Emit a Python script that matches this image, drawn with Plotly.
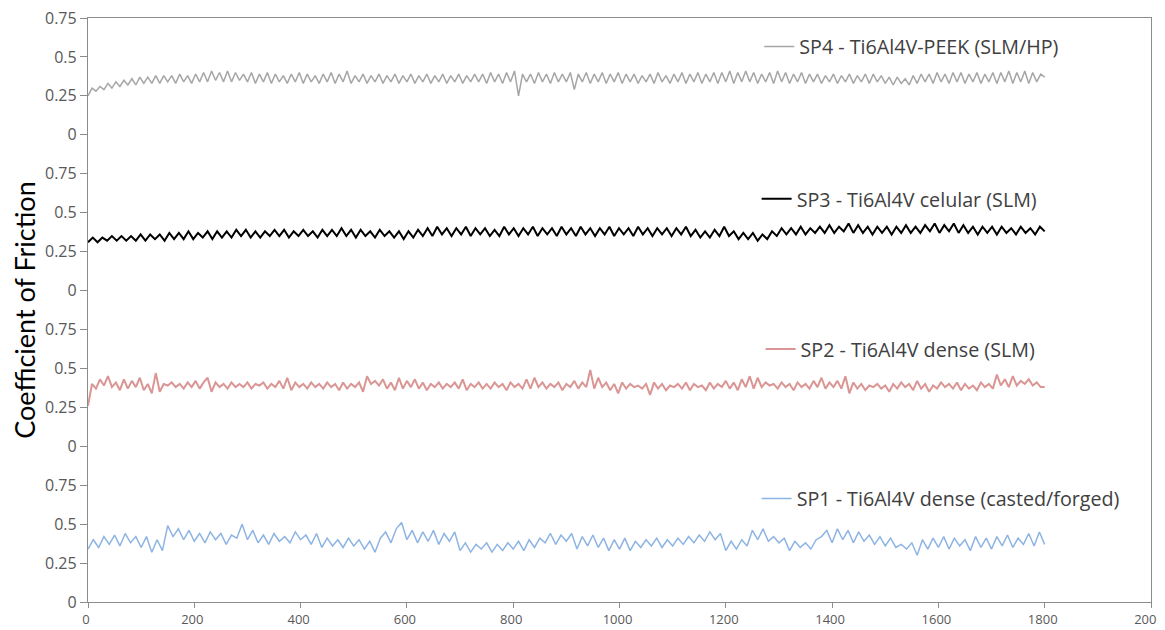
import numpy as np
import plotly.graph_objects as go

# ---------------- data ----------------
SERIES_NAMES = [
    "SP1 - Ti6Al4V dense (casted/forged)",
    "SP2 - Ti6Al4V dense (SLM)",
    "SP3 - Ti6Al4V celular (SLM)",
    "SP4 - Ti6Al4V-PEEK (SLM/HP)",
]

# sliding distance (x) for each series
x_sp1 = np.arange(0, 1800.1, 10.0)
x_sp2 = np.arange(0, 1800.1, 7.5)
x_sp3 = np.arange(0, 1800.1, 9.0)
x_sp4 = np.arange(0, 1800.1, 7.5)

sp1 = [
    0.34, 0.40, 0.35, 0.42, 0.37, 0.43, 0.36, 0.44, 0.38, 0.42,
    0.35, 0.42, 0.32, 0.40, 0.33, 0.49, 0.42, 0.47, 0.40, 0.46,
    0.39, 0.44, 0.38, 0.45, 0.40, 0.44, 0.37, 0.43, 0.41, 0.50,
    0.40, 0.46, 0.38, 0.43, 0.37, 0.44, 0.39, 0.42, 0.38, 0.45,
    0.40, 0.43, 0.37, 0.44, 0.35, 0.41, 0.36, 0.40, 0.35, 0.41,
    0.36, 0.40, 0.34, 0.39, 0.32, 0.41, 0.45, 0.38, 0.47, 0.51,
    0.40, 0.46, 0.38, 0.45, 0.39, 0.46, 0.37, 0.44, 0.39, 0.45,
    0.33, 0.38, 0.32, 0.37, 0.34, 0.38, 0.32, 0.37, 0.33, 0.38,
    0.34, 0.39, 0.33, 0.40, 0.35, 0.41, 0.38, 0.44, 0.37, 0.43,
    0.39, 0.44, 0.34, 0.42, 0.36, 0.43, 0.35, 0.41, 0.33, 0.40,
    0.34, 0.41, 0.33, 0.39, 0.35, 0.40, 0.36, 0.41, 0.35, 0.40,
    0.36, 0.41, 0.37, 0.42, 0.38, 0.43, 0.39, 0.45, 0.40, 0.44,
    0.33, 0.39, 0.34, 0.40, 0.36, 0.46, 0.40, 0.47, 0.39, 0.42,
    0.38, 0.41, 0.33, 0.39, 0.35, 0.38, 0.34, 0.40, 0.42, 0.46,
    0.38, 0.47, 0.40, 0.46, 0.38, 0.45, 0.39, 0.43, 0.37, 0.42,
    0.36, 0.41, 0.35, 0.37, 0.34, 0.38, 0.30, 0.40, 0.34, 0.41,
    0.35, 0.42, 0.34, 0.41, 0.36, 0.40, 0.33, 0.42, 0.35, 0.41,
    0.34, 0.42, 0.36, 0.43, 0.35, 0.41, 0.37, 0.44, 0.36, 0.45,
    0.37,
]

sp2 = [
    0.26, 0.40, 0.37, 0.43, 0.39, 0.45, 0.38, 0.41, 0.36, 0.43,
    0.37, 0.42, 0.38, 0.44, 0.36, 0.40, 0.34, 0.47, 0.35, 0.40,
    0.39, 0.41, 0.38, 0.40, 0.37, 0.41, 0.38, 0.42, 0.37, 0.41,
    0.44, 0.35, 0.41, 0.38, 0.40, 0.37, 0.41, 0.38, 0.40, 0.38,
    0.41, 0.37, 0.40, 0.39, 0.41, 0.37, 0.40, 0.38, 0.42, 0.37,
    0.44, 0.36, 0.41, 0.38, 0.40, 0.37, 0.41, 0.38, 0.40, 0.37,
    0.41, 0.38, 0.40, 0.36, 0.41, 0.37, 0.40, 0.38, 0.41, 0.35,
    0.45, 0.40, 0.42, 0.39, 0.43, 0.37, 0.41, 0.36, 0.44, 0.37,
    0.42, 0.38, 0.43, 0.37, 0.41, 0.36, 0.40, 0.38, 0.41, 0.37,
    0.40, 0.38, 0.41, 0.37, 0.43, 0.36, 0.40, 0.38, 0.41, 0.37,
    0.40, 0.37, 0.41, 0.38, 0.40, 0.36, 0.41, 0.38, 0.40, 0.37,
    0.43, 0.37, 0.44, 0.38, 0.41, 0.37, 0.40, 0.38, 0.41, 0.36,
    0.40, 0.38, 0.42, 0.37, 0.41, 0.38, 0.49, 0.37, 0.44, 0.38,
    0.41, 0.36, 0.40, 0.34, 0.41, 0.37, 0.40, 0.38, 0.39, 0.37,
    0.40, 0.33, 0.41, 0.37, 0.40, 0.36, 0.39, 0.38, 0.40, 0.37,
    0.41, 0.36, 0.40, 0.38, 0.39, 0.36, 0.41, 0.37, 0.40, 0.38,
    0.42, 0.37, 0.41, 0.36, 0.43, 0.38, 0.45, 0.37, 0.44, 0.38,
    0.41, 0.39, 0.40, 0.37, 0.41, 0.38, 0.40, 0.36, 0.41, 0.38,
    0.40, 0.37, 0.42, 0.38, 0.44, 0.37, 0.41, 0.38, 0.42, 0.37,
    0.45, 0.34, 0.41, 0.37, 0.40, 0.36, 0.39, 0.38, 0.40, 0.37,
    0.39, 0.35, 0.40, 0.37, 0.41, 0.38, 0.40, 0.36, 0.42, 0.37,
    0.40, 0.35, 0.39, 0.37, 0.41, 0.38, 0.40, 0.37, 0.41, 0.36,
    0.40, 0.37, 0.39, 0.36, 0.41, 0.38, 0.40, 0.37, 0.46, 0.39,
    0.43, 0.38, 0.45, 0.39, 0.42, 0.40, 0.43, 0.39, 0.41, 0.38,
    0.38,
]

sp3 = [
    0.31, 0.34, 0.31, 0.34, 0.32, 0.35, 0.32, 0.35, 0.32, 0.35,
    0.32, 0.36, 0.32, 0.36, 0.33, 0.36, 0.32, 0.37, 0.33, 0.37,
    0.33, 0.38, 0.33, 0.37, 0.34, 0.38, 0.33, 0.38, 0.34, 0.38,
    0.34, 0.39, 0.35, 0.39, 0.34, 0.38, 0.34, 0.38, 0.35, 0.39,
    0.35, 0.39, 0.34, 0.38, 0.35, 0.39, 0.35, 0.38, 0.34, 0.39,
    0.35, 0.39, 0.35, 0.40, 0.35, 0.39, 0.34, 0.39, 0.35, 0.38,
    0.34, 0.39, 0.35, 0.38, 0.34, 0.38, 0.33, 0.38, 0.34, 0.39,
    0.35, 0.40, 0.35, 0.41, 0.36, 0.40, 0.35, 0.40, 0.36, 0.41,
    0.35, 0.40, 0.36, 0.40, 0.35, 0.39, 0.35, 0.41, 0.36, 0.40,
    0.35, 0.40, 0.36, 0.41, 0.35, 0.40, 0.36, 0.40, 0.35, 0.41,
    0.36, 0.40, 0.35, 0.41, 0.36, 0.40, 0.35, 0.40, 0.36, 0.41,
    0.35, 0.40, 0.36, 0.40, 0.35, 0.41, 0.36, 0.40, 0.35, 0.40,
    0.36, 0.40, 0.35, 0.40, 0.36, 0.41, 0.35, 0.39, 0.34, 0.38,
    0.34, 0.39, 0.35, 0.41, 0.35, 0.38, 0.33, 0.37, 0.33, 0.37,
    0.32, 0.36, 0.33, 0.38, 0.35, 0.40, 0.36, 0.40, 0.36, 0.41,
    0.36, 0.40, 0.37, 0.41, 0.37, 0.42, 0.37, 0.41, 0.38, 0.43,
    0.37, 0.42, 0.37, 0.41, 0.36, 0.41, 0.37, 0.41, 0.36, 0.41,
    0.37, 0.42, 0.37, 0.41, 0.37, 0.42, 0.38, 0.43, 0.37, 0.42,
    0.38, 0.43, 0.37, 0.42, 0.37, 0.41, 0.36, 0.41, 0.37, 0.41,
    0.36, 0.41, 0.37, 0.40, 0.36, 0.41, 0.37, 0.40, 0.36, 0.41,
    0.38,
]

sp4 = [
    0.25, 0.30, 0.28, 0.31, 0.29, 0.33, 0.30, 0.34, 0.31, 0.35,
    0.32, 0.36, 0.32, 0.37, 0.33, 0.37, 0.33, 0.38, 0.33, 0.38,
    0.34, 0.38, 0.33, 0.39, 0.34, 0.38, 0.33, 0.39, 0.34, 0.40,
    0.34, 0.41, 0.35, 0.40, 0.34, 0.41, 0.34, 0.40, 0.35, 0.39,
    0.34, 0.40, 0.33, 0.39, 0.34, 0.40, 0.33, 0.39, 0.34, 0.38,
    0.33, 0.39, 0.34, 0.40, 0.33, 0.39, 0.34, 0.38, 0.33, 0.39,
    0.34, 0.40, 0.33, 0.39, 0.34, 0.41, 0.33, 0.38, 0.34, 0.39,
    0.33, 0.38, 0.34, 0.39, 0.33, 0.38, 0.34, 0.39, 0.33, 0.38,
    0.34, 0.39, 0.33, 0.38, 0.34, 0.39, 0.33, 0.38, 0.34, 0.39,
    0.33, 0.38, 0.34, 0.39, 0.33, 0.38, 0.34, 0.39, 0.34, 0.39,
    0.33, 0.40, 0.34, 0.39, 0.33, 0.40, 0.34, 0.41, 0.25, 0.39,
    0.34, 0.39, 0.33, 0.40, 0.34, 0.39, 0.33, 0.40, 0.34, 0.39,
    0.34, 0.40, 0.29, 0.39, 0.34, 0.40, 0.33, 0.39, 0.34, 0.40,
    0.33, 0.39, 0.34, 0.40, 0.33, 0.39, 0.34, 0.39, 0.33, 0.38,
    0.34, 0.39, 0.33, 0.40, 0.34, 0.38, 0.33, 0.39, 0.34, 0.40,
    0.33, 0.39, 0.34, 0.40, 0.33, 0.39, 0.34, 0.40, 0.33, 0.40,
    0.34, 0.41, 0.33, 0.40, 0.34, 0.41, 0.34, 0.40, 0.33, 0.39,
    0.34, 0.40, 0.33, 0.41, 0.34, 0.40, 0.33, 0.39, 0.34, 0.40,
    0.33, 0.39, 0.34, 0.39, 0.33, 0.38, 0.34, 0.39, 0.33, 0.38,
    0.34, 0.39, 0.33, 0.38, 0.34, 0.39, 0.33, 0.39, 0.34, 0.38,
    0.33, 0.37, 0.32, 0.37, 0.33, 0.36, 0.32, 0.38, 0.33, 0.39,
    0.34, 0.39, 0.33, 0.40, 0.34, 0.39, 0.33, 0.40, 0.34, 0.40,
    0.33, 0.39, 0.34, 0.40, 0.33, 0.39, 0.34, 0.40, 0.33, 0.40,
    0.34, 0.41, 0.33, 0.40, 0.34, 0.41, 0.33, 0.40, 0.34, 0.39,
    0.37,
]

# y-axis tick labels (each band repeats 0 .. 0.75)
Y_TICK_TEXT = ["0", "0.25", "0.5", "0.75"] * 4
X_TICKS = list(range(0, 2001, 200))

# ---------------- styling / layout ----------------
COLORS = ["rgb(141,180,226)", "rgb(217,150,148)", "rgb(0,0,0)", "rgb(166,166,166)"]
WIDTHS = [1.5, 2.0, 2.0, 1.5]
BAND_OFFSETS = [0.0, 1.0, 2.0, 3.0]
LEGEND_IDS = ["legend4", "legend3", "legend2", "legend"]
LEGEND_POS = [(0.6290, 0.177), (0.6327, 0.433), (0.6290, 0.690), (0.6315, 0.951)]

xs = [x_sp1, x_sp2, x_sp3, x_sp4]
ys = [sp1, sp2, sp3, sp4]

fig = go.Figure()
for i in range(4):
    fig.add_trace(go.Scatter(
        x=xs[i], y=np.array(ys[i]) + BAND_OFFSETS[i],
        mode="lines", name=SERIES_NAMES[i],
        line=dict(color=COLORS[i], width=WIDTHS[i]),
        legend=LEGEND_IDS[i],
    ))

FONT = "Open Sans, Noto Sans, sans-serif"
legend_common = dict(
    bgcolor="rgba(0,0,0,0)", borderwidth=0,
    font=dict(family=FONT, size=19.7, color="#404040"),
    xanchor="left", yanchor="middle", itemwidth=30,
)
layout_legends = {}
for i in range(4):
    lx, ly = LEGEND_POS[i]
    layout_legends[LEGEND_IDS[i]] = dict(legend_common, x=lx, y=ly)

axis_line = "#8c8c8c"
# the page body adds an 8px offset, so the figure is 8px smaller than the window
fig.update_layout(
    width=1157, height=622,
    margin=dict(l=80, r=14, t=10, b=28, autoexpand=False),
    paper_bgcolor="white", plot_bgcolor="white",
    showlegend=True,
    xaxis=dict(
        range=[0, 2000], tickvals=X_TICKS, ticktext=[str(v) for v in X_TICKS],
        showgrid=False, zeroline=False, showline=True, mirror=True,
        linecolor=axis_line, linewidth=1.3, automargin=False,
        ticks="outside", ticklen=5, tickcolor=axis_line,
        ticklabeloverflow="allow", ticklabelshift=-2,
        tickfont=dict(family=FONT, size=13, color="#595959"),
    ),
    yaxis=dict(
        range=[0, 3.75], tickvals=[k * 0.25 for k in range(16)], ticktext=Y_TICK_TEXT,
        showgrid=False, zeroline=False, showline=True, mirror=True,
        linecolor=axis_line, linewidth=1.3, automargin=False,
        ticks="outside", ticklen=7, tickcolor=axis_line,
        ticklabeloverflow="allow",
        tickfont=dict(family=FONT, size=16, color="#595959"),
        title=dict(text="Coefficient of Friction", standoff=6,
                   font=dict(family="Lato, Open Sans, sans-serif", size=27, color="#000000")),
    ),
    **layout_legends,
)

fig.write_html("out.html")
